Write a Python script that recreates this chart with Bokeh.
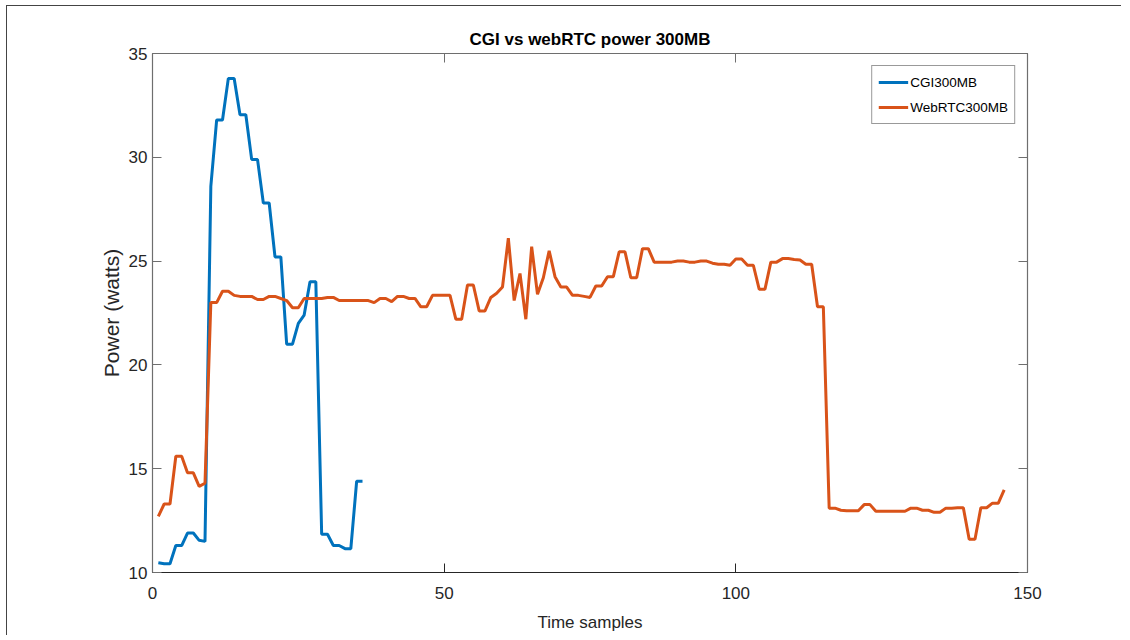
from bokeh.plotting import figure
from bokeh.models import LinearAxis, FixedTicker, Range1d, Legend, LegendItem
from bokeh.embed import file_html
from bokeh.resources import INLINE

# ---- data ----
cgi_x = list(range(1, 37))
cgi_y = [10.47, 10.42, 10.42, 11.3, 11.3, 11.9, 11.9, 11.55, 11.5, 28.6,
         31.8, 31.8, 33.8, 33.8, 32.05, 32.05, 29.9, 29.9, 27.8, 27.8,
         25.2, 25.2, 21.0, 21.0, 22.0, 22.4, 24.0, 24.0, 11.84, 11.84,
         11.3, 11.3, 11.15, 11.15, 14.4, 14.4]

web_x = list(range(1, 147))
web_y = [12.7, 13.3, 13.3, 15.6, 15.6, 14.8, 14.8, 14.15, 14.3, 23.0,
         23.0, 23.55, 23.55, 23.35, 23.3, 23.3, 23.3, 23.15, 23.15, 23.3,
         23.3, 23.2, 23.1, 22.75, 22.75, 23.2, 23.2, 23.2, 23.2, 23.25,
         23.25, 23.1, 23.1, 23.1, 23.1, 23.1, 23.1, 23.0, 23.2, 23.2,
         23.05, 23.3, 23.3, 23.2, 23.2, 22.8, 22.8, 23.35, 23.35, 23.35,
         23.35, 22.2, 22.2, 23.85, 23.85, 22.6, 22.6, 23.25, 23.45, 23.75,
         26.1, 23.1, 24.4, 22.2, 25.7, 23.4, 24.2, 25.5, 24.25, 23.75,
         23.75, 23.35, 23.35, 23.3, 23.25, 23.8, 23.8, 24.25, 24.25, 25.45,
         25.45, 24.2, 24.2, 25.6, 25.6, 24.95, 24.95, 24.95, 24.95, 25.0,
         25.0, 24.95, 24.95, 25.0, 25.0, 24.9, 24.85, 24.85, 24.8, 25.1,
         25.1, 24.8, 24.8, 23.65, 23.65, 24.95, 24.95, 25.12, 25.12, 25.08,
         25.05, 24.85, 24.85, 22.8, 22.8, 13.1, 13.1, 13.0, 12.97, 12.97,
         12.97, 13.27, 13.27, 12.95, 12.95, 12.95, 12.95, 12.95, 12.95, 13.1,
         13.1, 13.0, 13.0, 12.9, 12.9, 13.1, 13.1, 13.12, 13.12, 11.6,
         11.6, 13.12, 13.12, 13.34, 13.34, 13.98]

x_ticks = [0, 50, 100, 150]
y_ticks = [10, 15, 20, 25, 30, 35]

title_text = "CGI vs webRTC power 300MB"
x_label = "Time samples"
y_label = "Power (watts)"
series_names = ["CGI300MB", "WebRTC300MB"]
colors = ["#0072BD", "#D95319"]

FONT = "Liberation Sans"

p = figure(width=1115, height=630, output_backend="svg", toolbar_location=None,
           x_range=Range1d(0, 150), y_range=Range1d(10, 35),
           min_border_left=145, min_border_right=95, min_border_top=47,
           min_border_bottom=64)

p.styles = {"border-left": "1.5px solid #444", "border-top": "1.5px solid #444",
            "margin-left": "6px", "margin-top": "5px"}

p.title.text = title_text
p.title.align = "center"
p.title.text_font = FONT
p.title.text_font_style = "bold"
p.title.text_font_size = "17px"
p.title.text_color = "#000000"
p.title.standoff = 10

p.grid.visible = False
p.outline_line_color = "#6e6e6e"
p.outline_line_width = 1
p.background_fill_color = "white"
p.border_fill_color = "white"

def style_axis(ax, ticks, color):
    ax.ticker = FixedTicker(ticks=ticks)
    ax.major_tick_in = 9
    ax.major_tick_out = 0
    ax.minor_tick_in = 0
    ax.minor_tick_out = 0
    ax.axis_line_color = color
    ax.major_tick_line_color = color
    ax.axis_line_width = 1.2
    ax.major_label_text_font = FONT
    ax.major_label_text_font_size = "17px"
    ax.major_label_text_color = "#262626"
    ax.axis_label_text_font = FONT
    ax.axis_label_text_font_size = "17px"
    ax.axis_label_text_font_style = "normal"
    ax.axis_label_text_color = "#262626"

xa = p.xaxis[0]
style_axis(xa, x_ticks, "#262626")
xa.axis_label = x_label
xa.major_label_standoff = 14
xa.axis_label_standoff = 11

ya = p.yaxis[0]
style_axis(ya, y_ticks, "#6e6e6e")
ya.axis_label = y_label
ya.axis_label_text_font_size = "21px"
ya.major_label_standoff = 5
ya.axis_label_standoff = 3

top = LinearAxis()
style_axis(top, x_ticks, "#6e6e6e")
top.major_label_overrides = {t: "" for t in x_ticks}
top.major_label_standoff = 0
p.add_layout(top, "above")

right = LinearAxis()
style_axis(right, y_ticks, "#6e6e6e")
right.major_label_overrides = {t: "" for t in y_ticks}
right.major_label_standoff = 0
p.add_layout(right, "right")

r1 = p.line(cgi_x, cgi_y, line_color=colors[0], line_width=3)
r2 = p.line(web_x, web_y, line_color=colors[1], line_width=3)

legend = Legend(items=[LegendItem(label=series_names[0], renderers=[r1]),
                       LegendItem(label=series_names[1], renderers=[r2])],
                location="top_right")
legend.margin = 12
legend.padding = 6
legend.spacing = 5
legend.glyph_width = 30
legend.glyph_height = 20
legend.label_height = 20
legend.label_standoff = 2
legend.label_text_font = FONT
legend.label_text_font_size = "13.5px"
legend.label_text_color = "#000000"
legend.border_line_color = "#333333"
legend.border_line_width = 1
legend.background_fill_color = "white"
legend.background_fill_alpha = 1
p.add_layout(legend, "center")

open("out.html", "w").write(file_html(p, INLINE))
